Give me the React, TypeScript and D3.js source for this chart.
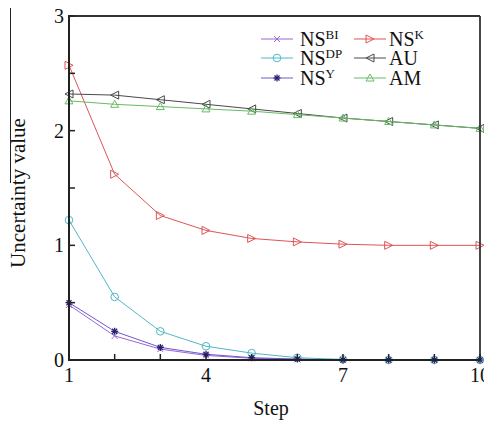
import React from "react";
import * as d3 from "d3";

const steps = [1, 2, 3, 4, 5, 6, 7, 8, 9, 10];
const nsBI = [0.48, 0.21, 0.095, 0.04, 0.015, 0.005, 0, 0, 0, 0];
const nsDP = [1.22, 0.55, 0.25, 0.12, 0.06, 0.02, 0.005, 0, 0, 0];
const nsY = [0.5, 0.25, 0.11, 0.05, 0.02, 0.008, 0, 0, 0, 0];
const nsK = [2.57, 1.62, 1.26, 1.13, 1.06, 1.03, 1.01, 1.0, 1.0, 1.0];
const au = [2.32, 2.31, 2.27, 2.23, 2.19, 2.15, 2.11, 2.08, 2.05, 2.02];
const am = [2.26, 2.23, 2.21, 2.19, 2.17, 2.14, 2.11, 2.08, 2.05, 2.02];
const yTicks = [0, 1, 2, 3];
const yMinor = [0.5, 1.5, 2.5];
const xTickLabels = [1, 4, 7, 10];

type Marker = "x" | "o" | "star" | "tr" | "tl" | "tu";
const series: { name: string; sup: string; values: number[]; color: string; mcolor: string; marker: Marker }[] = [
  { name: "NS", sup: "BI", values: nsBI, color: "#9a66d6", mcolor: "#9a66d6", marker: "x" },
  { name: "NS", sup: "DP", values: nsDP, color: "#4fb8c8", mcolor: "#4fb8c8", marker: "o" },
  { name: "NS", sup: "Y", values: nsY, color: "#6a58d0", mcolor: "#2a2070", marker: "star" },
  { name: "NS", sup: "K", values: nsK, color: "#dd5555", mcolor: "#dd5555", marker: "tr" },
  { name: "AU", sup: "", values: au, color: "#4a4a4a", mcolor: "#4a4a4a", marker: "tl" },
  { name: "AM", sup: "", values: am, color: "#66bb66", mcolor: "#66bb66", marker: "tu" },
];

function MarkerShape({ type, x, y, color }: { type: Marker; x: number; y: number; color: string }) {
  const s = 4;
  const common = { fill: "white", stroke: color, strokeWidth: 1 };
  switch (type) {
    case "x":
      return (
        <g stroke={color} strokeWidth={1}>
          <line x1={x - 3} y1={y - 3} x2={x + 3} y2={y + 3} />
          <line x1={x - 3} y1={y + 3} x2={x + 3} y2={y - 3} />
        </g>
      );
    case "o":
      return <circle cx={x} cy={y} r={3.8} {...common} fill="none" />;
    case "star":
      return (
        <g stroke={color} strokeWidth={1.3}>
          <line x1={x - 3.5} y1={y} x2={x + 3.5} y2={y} />
          <line x1={x} y1={y - 3.5} x2={x} y2={y + 3.5} />
          <line x1={x - 2.5} y1={y - 2.5} x2={x + 2.5} y2={y + 2.5} />
          <line x1={x - 2.5} y1={y + 2.5} x2={x + 2.5} y2={y - 2.5} />
        </g>
      );
    case "tr":
      return <path d={`M${x - s},${y - s}L${x + s},${y}L${x - s},${y + s}Z`} {...common} fill="none" />;
    case "tl":
      return <path d={`M${x + s},${y - s}L${x - s},${y}L${x + s},${y + s}Z`} {...common} fill="none" />;
    case "tu":
      return <path d={`M${x},${y - s}L${x + s},${y + s - 1}L${x - s},${y + s - 1}Z`} {...common} fill="none" />;
  }
}

export default function App() {
  const width = 484;
  const height = 425;
  const x = d3.scaleLinear().domain([1, 10]).range([69, 480]);
  const y = d3.scaleLinear().domain([0, 3]).range([360, 16]);
  const line = d3
    .line<number>()
    .x((_, i) => x(steps[i]))
    .y((d) => y(d));
  const font = "'Liberation Serif', 'Times New Roman', serif";

  const legendRows = [39, 58, 78];
  const legendCols = [{ lx: 261, tx: 300 }, { lx: 354, tx: 389 }];

  return (
    <svg
      width={width}
      height={height}
      style={{ position: "absolute", left: 0, top: 0, background: "white" }}
      fontFamily={font}
    >
      <rect x={0} y={0} width={width} height={height} fill="white" />
      {/* series */}
      {series.map((s, si) => (
        <g key={si}>
          <path d={line(s.values) || ""} fill="none" stroke={s.color} strokeWidth={1} />
          {s.values.map((v, i) => (
            <MarkerShape key={i} type={s.marker} x={x(steps[i])} y={y(v)} color={s.mcolor} />
          ))}
        </g>
      ))}
      {/* frame */}
      <line x1={69} y1={16} x2={480} y2={16} stroke="#333" strokeWidth={1.8} />
      <line x1={480} y1={16} x2={480} y2={360} stroke="#333" strokeWidth={1.8} />
      <line x1={69} y1={15} x2={69} y2={361} stroke="#222" strokeWidth={2} />
      <line x1={68} y1={360} x2={481} y2={360} stroke="#222" strokeWidth={2} />
      {/* y ticks */}
      {[...yTicks, ...yMinor].map((t) => (
        <line key={"yt" + t} x1={69} x2={75} y1={y(t)} y2={y(t)} stroke="#222" strokeWidth={1.5} />
      ))}
      {yTicks.map((t) => (
        <text key={"yl" + t} x={64} y={y(t)} dy="0.35em" textAnchor="end" fontSize={20} fill="#111">
          {t}
        </text>
      ))}
      {/* x ticks */}
      {steps.map((t) => (
        <line key={"xt" + t} x1={x(t)} x2={x(t)} y1={360} y2={354} stroke="#222" strokeWidth={1.5} />
      ))}
      {xTickLabels.map((t) => (
        <text key={"xl" + t} x={x(t)} y={382} textAnchor="middle" fontSize={20} fill="#111">
          {t}
        </text>
      ))}
      {/* axis titles */}
      <text x={271} y={415} textAnchor="middle" fontSize={20} fill="#111">
        Step
      </text>
      <text
        transform="translate(25,193) rotate(-90)"
        textAnchor="middle"
        fontSize={21}
        fill="#111"
      >
        Uncertainty value
      </text>
      <line x1={10.5} y1={8} x2={10.5} y2={183} stroke="#222" strokeWidth={1} />
      {/* legend */}
      {series.map((s, i) => {
        const col = legendCols[Math.floor(i / 3)];
        const ry = legendRows[i % 3];
        return (
          <g key={"lg" + i}>
            <line x1={col.lx} x2={col.lx + 32} y1={ry} y2={ry} stroke={s.color} strokeWidth={1} />
            <MarkerShape type={s.marker} x={col.lx + 16} y={ry} color={s.mcolor} />
            <text x={col.tx} y={ry + 7} fontSize={20} fill="#111">
              {s.name}
              {s.sup && (
                <tspan fontSize={13} dy={-7}>
                  {s.sup}
                </tspan>
              )}
            </text>
          </g>
        );
      })}
    </svg>
  );
}
